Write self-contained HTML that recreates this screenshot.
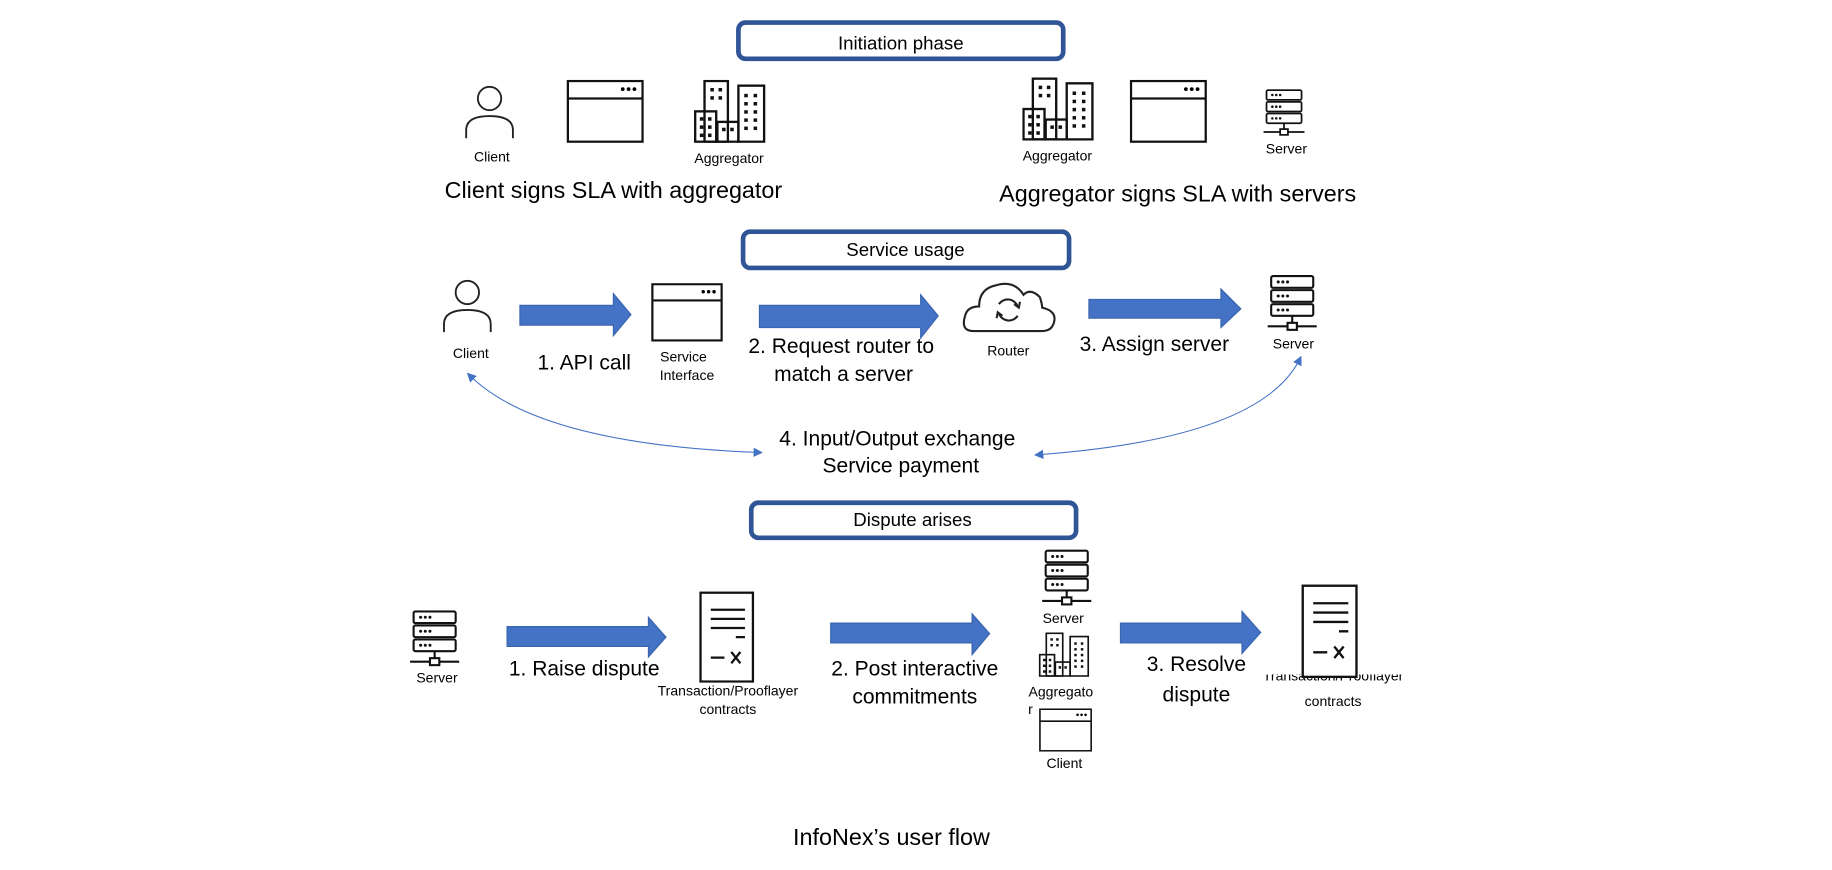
<!DOCTYPE html>
<html><head><meta charset="utf-8"><style>
html,body{margin:0;padding:0;background:#fff;width:1832px;height:870px;overflow:hidden}
svg{display:block}
text{font-family:"Liberation Sans",sans-serif;fill:#000}
</style></head><body>
<svg width="1832" height="870" viewBox="0 0 1568 744" xmlns="http://www.w3.org/2000/svg">
<defs>
<symbol id="person" viewBox="0 0 44 48"><circle cx="22" cy="13" r="10" fill="none" stroke="#222" stroke-width="1.6"/><path d="M2 47 V40 Q2 28 22 28 Q42 28 42 40 V47" fill="none" stroke="#222" stroke-width="1.6"/></symbol>
<symbol id="win" viewBox="0 0 66 54"><rect x="1" y="1" width="64" height="52" fill="none" stroke="#111" stroke-width="2"/><line x1="1" y1="16" x2="65" y2="16" stroke="#111" stroke-width="2"/><circle cx="48" cy="8" r="1.6"/><circle cx="53" cy="8" r="1.6"/><circle cx="58" cy="8" r="1.6"/></symbol>
<symbol id="bld" viewBox="0 0 62 54"><g fill="none" stroke="#111" stroke-width="2"><rect x="9" y="1" width="20" height="52"/><rect x="38" y="5" width="22" height="48"/><rect x="1" y="27" width="18" height="26"/><rect x="20" y="36" width="18" height="17"/></g><g fill="#111"><rect x="14" y="7" width="3" height="3"/><rect x="21" y="7" width="3" height="3"/><rect x="14" y="14" width="3" height="3"/><rect x="21" y="14" width="3" height="3"/><rect x="43" y="12" width="3" height="3"/><rect x="51" y="12" width="3" height="3"/><rect x="43" y="19" width="3" height="3"/><rect x="51" y="19" width="3" height="3"/><rect x="43" y="26" width="3" height="3"/><rect x="51" y="26" width="3" height="3"/><rect x="43" y="33" width="3" height="3"/><rect x="51" y="33" width="3" height="3"/><rect x="43" y="40" width="3" height="3"/><rect x="51" y="40" width="3" height="3"/><rect x="5" y="32" width="3" height="3"/><rect x="12" y="32" width="3" height="3"/><rect x="5" y="39" width="3" height="3"/><rect x="12" y="39" width="3" height="3"/><rect x="5" y="46" width="3" height="3"/><rect x="12" y="46" width="3" height="3"/><rect x="24" y="41" width="3" height="3"/><rect x="31" y="41" width="3" height="3"/></g></symbol>
<symbol id="srv" viewBox="0 0 44 48"><g fill="none" stroke="#111" stroke-width="1.8"><rect x="4" y="1" width="36" height="10" rx="1.5"/><rect x="4" y="13" width="36" height="10" rx="1.5"/><rect x="4" y="25" width="36" height="10" rx="1.5"/><line x1="22" y1="35" x2="22" y2="41"/><line x1="1" y1="44" x2="43" y2="44"/><rect x="18" y="41" width="8" height="6" fill="#fff"/></g><g fill="#111"><circle cx="10" cy="6" r="1.3"/><circle cx="14" cy="6" r="1.3"/><circle cx="18" cy="6" r="1.3"/><circle cx="10" cy="18" r="1.3"/><circle cx="14" cy="18" r="1.3"/><circle cx="18" cy="18" r="1.3"/><circle cx="10" cy="30" r="1.3"/><circle cx="14" cy="30" r="1.3"/><circle cx="18" cy="30" r="1.3"/></g></symbol>
<symbol id="doc" viewBox="0 0 48 80"><rect x="1" y="1" width="46" height="78" fill="#fff" stroke="#111" stroke-width="2"/><g stroke="#111" stroke-width="2"><line x1="10" y1="16" x2="40" y2="16"/><line x1="10" y1="24" x2="40" y2="24"/><line x1="10" y1="32" x2="40" y2="32"/><line x1="32" y1="40" x2="40" y2="40"/><line x1="10" y1="58" x2="22" y2="58"/><line x1="28" y1="53" x2="36" y2="63"/><line x1="36" y1="53" x2="28" y2="63"/></g></symbol>
<marker id="ah" markerWidth="8" markerHeight="8" refX="6" refY="4" orient="auto-start-reverse" markerUnits="userSpaceOnUse"><path d="M0 0 L8 4 L0 8 Z" fill="#4472C4"/></marker>
</defs>

<g fill="#fff" stroke="#2F5597" stroke-width="4">
<rect x="632" y="19" width="278" height="31" rx="6"/>
<rect x="636" y="198" width="279" height="31" rx="6"/>
<rect x="643" y="430" width="278" height="30" rx="6"/>
</g>
<g font-size="16" text-anchor="middle">
<text x="771" y="42">Initiation phase</text>
<text x="775" y="219">Service usage</text>
<text x="781" y="450">Dispute arises</text>
</g>

<use href="#person" x="397" y="71" width="44" height="48"/>
<use href="#win" x="485" y="68" width="66" height="54"/>
<use href="#bld" x="594" y="68" width="62" height="54"/>
<use href="#bld" x="875" y="66" width="62" height="54"/>
<use href="#win" x="967" y="68" width="66" height="54"/>
<use href="#srv" x="1080" y="76" width="38" height="40"/>
<g font-size="12" text-anchor="middle">
<text x="421" y="138">Client</text>
<text x="624" y="139">Aggregator</text>
<text x="905" y="137">Aggregator</text>
<text x="1101" y="131">Server</text>
</g>
<g font-size="20" text-anchor="middle">
<text x="525" y="169">Client signs SLA with aggregator</text>
<text x="1008" y="172">Aggregator signs SLA with servers</text>
</g>

<use href="#person" x="378" y="237" width="44" height="48"/>
<use href="#win" x="555" y="242" width="66" height="50"/>
<g fill="none" stroke="#222" stroke-width="1.8"><path d="M833 283 Q822 283 826 270 Q828 262 838 262 Q838 247 852 244 Q868 239 876 252 Q882 246 890 254 Q892 260 892 263 Q905 266 902 276 Q900 283 892 283 Z"/><path d="M855 260 A9 9 0 0 1 871 262 M871 270 A9 9 0 0 1 855 268"/><path d="M868 260 L872 263 L873 258" /><path d="M858 270 L854 267 L853 272"/></g>
<use href="#srv" x="1084" y="235" width="44" height="48"/>
<g fill="#4472C4" stroke="#3A64AE" stroke-width="1">
<path d="M445 261 H525 V251 L540 269 L525 287 V278 H445 Z"/>
<path d="M650 261 H788 V252 L803 270 L788 289 V280 H650 Z"/>
<path d="M932 256 H1045 V247 L1062 264 L1045 280 V272 H932 Z"/>
</g>
<g font-size="12" text-anchor="middle">
<text x="403" y="306">Client</text>
<text x="585" y="309">Service</text>
<text x="588" y="325">Interface</text>
<text x="863" y="304">Router</text>
<text x="1107" y="298">Server</text>
</g>
<g font-size="18" text-anchor="middle">
<text x="500" y="316">1. API call</text>
<text x="720" y="302">2. Request router to</text>
<text x="722" y="326">match a server</text>
<text x="988" y="300">3. Assign server</text>
<text x="768" y="381">4. Input/Output exchange</text>
<text x="771" y="404">Service payment</text>
</g>
<g fill="none" stroke="#4472C4" stroke-width="0.9">
<path d="M651 387 Q460 380 401 320" marker-start="url(#ah)" marker-end="url(#ah)"/>
<path d="M887 389 Q1080 375 1113 306" marker-start="url(#ah)" marker-end="url(#ah)"/>
</g>

<text x="1141" y="582" font-size="12" text-anchor="middle">Transaction/Prooflayer</text>
<rect x="1070" y="566" width="145" height="11" fill="#fff"/>

<use href="#srv" x="350" y="522" width="44" height="48"/>
<use href="#doc" x="598" y="506" width="48" height="78"/>
<use href="#srv" x="890" y="470" width="46" height="48"/>
<use href="#bld" x="888" y="541" width="46" height="38"/>
<use href="#win" x="888" y="606" width="48" height="37"/>
<use href="#doc" x="1113" y="500" width="50" height="80"/>
<g fill="#4472C4" stroke="#3A64AE" stroke-width="1">
<path d="M434 536 H555 V528 L570 545 L555 562 V553 H434 Z"/>
<path d="M711 533 H832 V525 L847 542 L832 560 V550 H711 Z"/>
<path d="M959 533 H1063 V523 L1079 541 L1063 559 V550 H959 Z"/>
</g>
<g font-size="12" text-anchor="middle">
<text x="374" y="584">Server</text>
<text x="623" y="595">Transaction/Prooflayer</text>
<text x="623" y="611">contracts</text>
<text x="910" y="533">Server</text>
<text x="908" y="596">Aggregato</text>
<text x="882" y="611">r</text>
<text x="911" y="657">Client</text>
<text x="1141" y="604">contracts</text>
</g>
<g font-size="18" text-anchor="middle">
<text x="500" y="578">1. Raise dispute</text>
<text x="783" y="578">2. Post interactive</text>
<text x="783" y="602">commitments</text>
<text x="1024" y="574">3. Resolve</text>
<text x="1024" y="600">dispute</text>
</g>
<text x="763" y="723" font-size="20" text-anchor="middle">InfoNex’s user flow</text>
</svg>
</body></html>
